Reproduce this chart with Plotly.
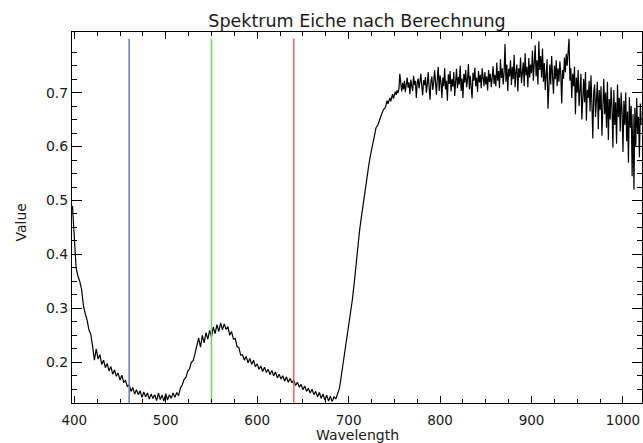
import plotly.graph_objects as go

# Reflectance spectrum of oak ("Eiche").
# Visible part sampled every 2 nm (398-738 nm), NIR plateau every 1 nm (740-1020 nm).
vis_start_nm, vis_step_nm = 398, 2
vis_reflectance = [
    0.49,
    # 400 - 418
    0.42, 0.375, 0.36, 0.35, 0.335, 0.305, 0.29, 0.278, 0.26, 0.252,
    # 420 - 438
    0.23, 0.204, 0.225, 0.206, 0.214, 0.196, 0.204, 0.19, 0.198, 0.184,
    # 440 - 458
    0.192, 0.178, 0.186, 0.174, 0.18, 0.167, 0.176, 0.163, 0.166, 0.155,
    # 460 - 478
    0.158, 0.146, 0.153, 0.141, 0.149, 0.14, 0.147, 0.135, 0.145, 0.136,
    # 480 - 498
    0.143, 0.132, 0.141, 0.133, 0.14, 0.129, 0.143, 0.131, 0.139, 0.128,
    # 500 - 518
    0.142, 0.13, 0.14, 0.133, 0.143, 0.135, 0.144, 0.138, 0.152, 0.158,
    # 520 - 538
    0.168, 0.172, 0.183, 0.188, 0.2, 0.203, 0.216, 0.228, 0.245, 0.228,
    # 540 - 558
    0.25, 0.236, 0.255, 0.243, 0.259, 0.247, 0.265, 0.253, 0.27, 0.257,
    # 560 - 578
    0.273, 0.26, 0.271, 0.261, 0.266, 0.25, 0.257, 0.243, 0.244, 0.229,
    # 580 - 598
    0.227, 0.213, 0.214, 0.204, 0.211, 0.199, 0.207, 0.196, 0.204, 0.192,
    # 600 - 618
    0.197, 0.187, 0.193, 0.183, 0.191, 0.181, 0.187, 0.177, 0.185, 0.175,
    # 620 - 638
    0.182, 0.171, 0.178, 0.169, 0.175, 0.165, 0.173, 0.163, 0.17, 0.162,
    # 640 - 658
    0.167, 0.157, 0.163, 0.154, 0.159, 0.149, 0.156, 0.146, 0.152, 0.143,
    # 660 - 678
    0.15, 0.14, 0.146, 0.136, 0.144, 0.133, 0.141, 0.13, 0.139, 0.128,
    # 680 - 698
    0.137, 0.127, 0.136, 0.132, 0.142, 0.152, 0.175, 0.198, 0.22, 0.242,
    # 700 - 718
    0.265, 0.29, 0.315, 0.345, 0.38, 0.42, 0.445, 0.47, 0.495, 0.517,
    # 720 - 738
    0.54, 0.565, 0.585, 0.602, 0.618, 0.635, 0.64, 0.652, 0.66, 0.668,
]
nir_start_nm, nir_step_nm = 740, 1
nir_reflectance = [
    # 740 - 749
    0.672, 0.678, 0.685, 0.679, 0.683, 0.69, 0.684, 0.692, 0.697, 0.689,
    # 750 - 759
    0.694, 0.702, 0.696, 0.704, 0.699, 0.707, 0.735, 0.71, 0.702, 0.718,
    # 760 - 769
    0.706, 0.722, 0.701, 0.715, 0.728, 0.709, 0.719, 0.697, 0.724, 0.712,
    # 770 - 779
    0.703, 0.731, 0.714, 0.722, 0.69, 0.718, 0.726, 0.708, 0.72, 0.735,
    # 780 - 789
    0.711, 0.695, 0.723, 0.714, 0.729, 0.7, 0.716, 0.738, 0.71, 0.687,
    # 790 - 799
    0.721, 0.73, 0.705, 0.718, 0.742, 0.712, 0.696, 0.727, 0.748, 0.703,
    # 800 - 809
    0.732, 0.718, 0.69, 0.728, 0.712, 0.745, 0.706, 0.722, 0.685, 0.734,
    # 810 - 819
    0.716, 0.74, 0.702, 0.725, 0.711, 0.738, 0.694, 0.72, 0.744, 0.708,
    # 820 - 829
    0.729, 0.715, 0.75, 0.703, 0.726, 0.69, 0.735, 0.719, 0.742, 0.71,
    # 830 - 839
    0.724, 0.753, 0.706, 0.731, 0.716, 0.689, 0.737, 0.722, 0.746, 0.712,
    # 840 - 849
    0.728, 0.701, 0.74, 0.719, 0.733, 0.708, 0.745, 0.725, 0.712, 0.738,
    # 850 - 859
    0.715, 0.73, 0.704, 0.742, 0.72, 0.735, 0.71, 0.728, 0.749, 0.716,
    # 860 - 869
    0.733, 0.712, 0.756, 0.722, 0.74, 0.708, 0.762, 0.727, 0.745, 0.715,
    # 870 - 879
    0.738, 0.79, 0.72, 0.752, 0.703, 0.744, 0.73, 0.76, 0.714, 0.748,
    # 880 - 889
    0.725, 0.77, 0.71, 0.738, 0.752, 0.702, 0.745, 0.728, 0.765, 0.718,
    # 890 - 899
    0.74, 0.756, 0.712, 0.773, 0.732, 0.748, 0.71, 0.764, 0.728, 0.752,
    # 900 - 909
    0.736, 0.778, 0.722, 0.75, 0.788, 0.73, 0.76, 0.715, 0.795, 0.742,
    # 910 - 919
    0.768, 0.728, 0.782, 0.72, 0.755, 0.705, 0.742, 0.762, 0.67, 0.735,
    # 920 - 929
    0.752, 0.715, 0.768, 0.73, 0.698, 0.75, 0.725, 0.76, 0.712, 0.745,
    # 930 - 939
    0.72, 0.758, 0.735, 0.68, 0.742, 0.726, 0.765, 0.738, 0.772, 0.75,
    # 940 - 949
    0.78, 0.8, 0.722, 0.745, 0.69, 0.735, 0.712, 0.748, 0.66, 0.728,
    # 950 - 959
    0.7, 0.742, 0.675, 0.718, 0.735, 0.65, 0.71, 0.725, 0.682, 0.738,
    # 960 - 969
    0.648, 0.705, 0.69, 0.722, 0.665, 0.732, 0.68, 0.615, 0.7, 0.715,
    # 970 - 979
    0.655, 0.69, 0.72, 0.632, 0.705, 0.668, 0.712, 0.62, 0.695, 0.725,
    # 980 - 989
    0.66, 0.7, 0.635, 0.72, 0.612, 0.688, 0.65, 0.71, 0.672, 0.598,
    # 990 - 999
    0.705, 0.64, 0.682, 0.605, 0.715, 0.655, 0.69, 0.628, 0.7, 0.665,
    # 1000 - 1009
    0.59, 0.685, 0.64, 0.7, 0.61, 0.665, 0.57, 0.692, 0.635, 0.675,
    # 1010 - 1019
    0.545, 0.66, 0.52, 0.672, 0.6, 0.69, 0.625, 0.655, 0.58, 0.68,
    # 1020
    0.64,
]

wavelength = ([vis_start_nm + vis_step_nm * i for i in range(len(vis_reflectance))]
              + [nir_start_nm + nir_step_nm * i for i in range(len(nir_reflectance))])
reflectance = vis_reflectance + nir_reflectance

# Band markers (blue, green, red channels)
band_nm = [460, 550, 640]
band_colors = ["#6878c0", "#7cc86c", "#f06464"]
band_top = 0.8

x_range = [397.5, 1020.8]
y_range = [0.1245, 0.8124]
y_major = [0.2, 0.3, 0.4, 0.5, 0.6, 0.7]
y_minor = [round(0.125 + 0.025 * i, 3) for i in range(27)]  # 0.125 ... 0.775

font_family = "DejaVu Sans"
ink = "#1a1a1a"

fig = go.Figure()
fig.add_trace(go.Scatter(
    x=wavelength, y=reflectance, mode="lines",
    line=dict(color="black", width=1.2), showlegend=False, hoverinfo="skip",
))
for nm, col in zip(band_nm, band_colors):
    fig.add_trace(go.Scatter(
        x=[nm, nm], y=[band_top, y_range[0]], mode="lines",
        line=dict(color=col, width=1.5), showlegend=False, hoverinfo="skip",
    ))

fig.update_layout(
    width=643, height=443,
    margin=dict(l=72, r=1, t=32, b=40),
    paper_bgcolor="white", plot_bgcolor="white",
    font=dict(family=font_family, size=14, color=ink),
    title=dict(
        text="Spektrum Eiche nach Berechnung",
        x=0.5, xref="paper", xanchor="center",
        y=1, yref="paper", yanchor="bottom", pad=dict(b=5),
        font=dict(family=font_family, size=17.5, color=ink),
    ),
    xaxis=dict(
        range=x_range, showgrid=False, zeroline=False, automargin=False,
        showline=True, linecolor="black", linewidth=1, mirror="allticks",
        ticks="inside", ticklen=7, tickcolor="black", tickwidth=1,
        tickmode="linear", tick0=400, dtick=100, ticklabelstandoff=5,
        minor=dict(ticks="inside", ticklen=4, dtick=25, tick0=400,
                   tickcolor="black", tickwidth=1, showgrid=False),
        tickfont=dict(size=13.5, color=ink),
    ),
    yaxis=dict(
        range=y_range, showgrid=False, zeroline=False, automargin=False,
        showline=True, linecolor="black", linewidth=1, mirror="allticks",
        ticks="inside", ticklen=10, tickcolor="black", tickwidth=1,
        tickmode="array", tickvals=y_major, tickformat=".1f",
        minor=dict(ticks="inside", ticklen=5, tickmode="array",
                   tickvals=y_minor, tickcolor="black", tickwidth=1,
                   showgrid=False),
        tickfont=dict(size=14, color=ink),
    ),
    annotations=[
        dict(text="Wavelength", xref="paper", yref="paper", x=0.5, y=0,
             xanchor="center", yanchor="middle", yshift=-31.5, showarrow=False,
             font=dict(size=14, color=ink)),
        dict(text="Value", xref="paper", yref="paper", x=0, y=0.5,
             xanchor="center", yanchor="middle", xshift=-52, yshift=-5,
             textangle=-90, showarrow=False,
             font=dict(size=14, color=ink)),
    ],
)

fig.write_html("out.html")
